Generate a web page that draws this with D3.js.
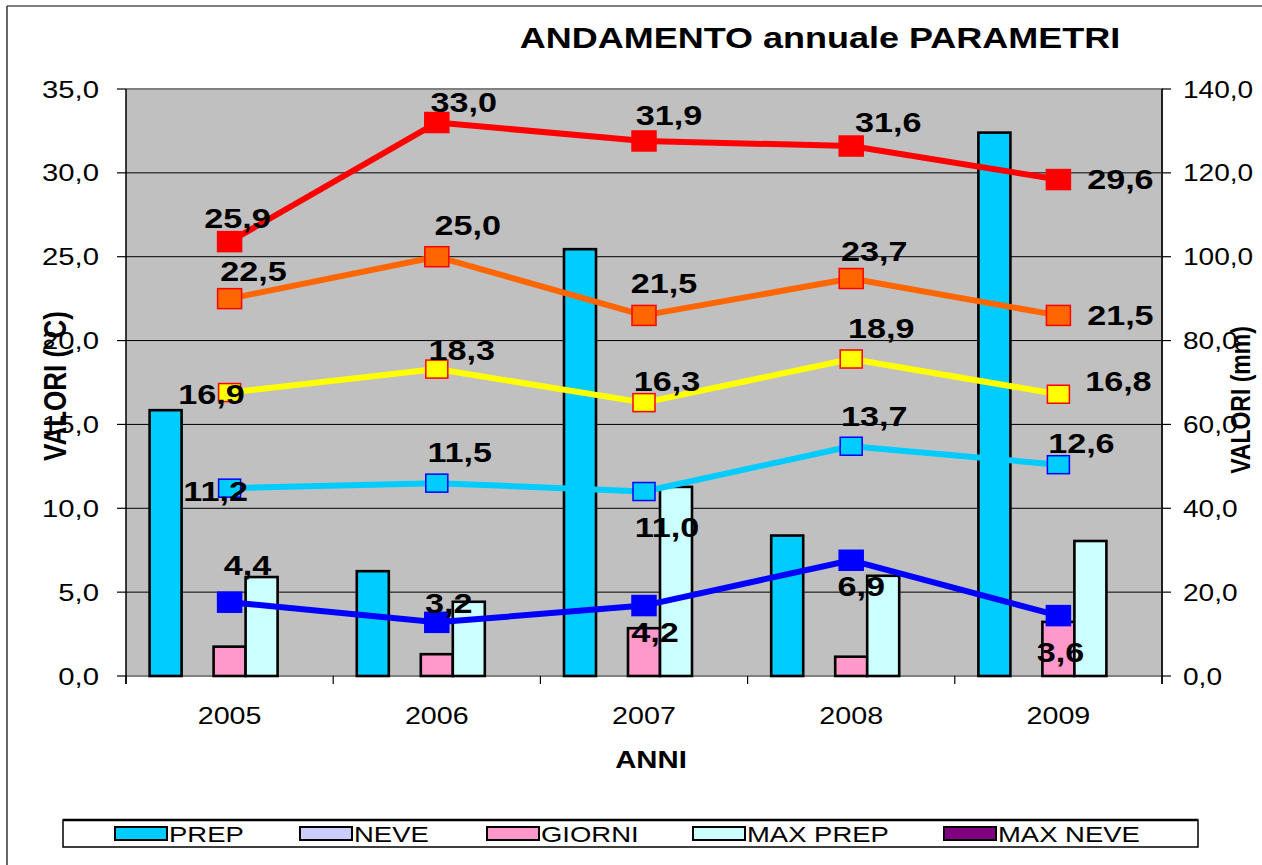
<!DOCTYPE html>
<html>
<head>
<meta charset="utf-8">
<script src="https://cdn.jsdelivr.net/npm/d3@7"></script>
<style>
  body { margin: 0; background: #fff; }
  svg text { font-family: "Liberation Sans", Arial, sans-serif; }
</style>
</head>
<body>
<div id="chart"></div>
<script>
// categories
const years = ["2005", "2006", "2007", "2008", "2009"];

// bar series (mm, right axis)
const barNames = ["PREP", "NEVE", "GIORNI", "MAX PREP", "MAX NEVE"];
const prep = [63.4, 25.0, 101.8, 33.5, 129.6];
const neve = [0, 0, 0, 0, 0];
const giorni = [7.0, 5.2, 11.4, 4.6, 12.9];
const maxPrep = [23.6, 17.7, 45.1, 23.9, 32.2];
const maxNeve = [0, 0, 0, 0, 0];

// line series (°C, left axis)
const tMaxAss = [25.9, 33.0, 31.9, 31.6, 29.6];
const tMaxMed = [22.5, 25.0, 21.5, 23.7, 21.5];
const tMed = [16.9, 18.3, 16.3, 18.9, 16.8];
const tMinMed = [11.2, 11.5, 11.0, 13.7, 12.6];
const tMinAss = [4.4, 3.2, 4.2, 6.9, 3.6];

// axis ticks
const leftTicks = [0, 5, 10, 15, 20, 25, 30, 35];
const rightTicks = [0, 20, 40, 60, 80, 100, 120, 140];

const W = 1262, H = 865;
const plot = { left: 126, right: 1162, top: 89, bottom: 676 };
const STRETCH = 1.22;
const fmt = v => d3.format(".1f")(v).replace(".", ",");

const barColor = d3.scaleOrdinal()
    .domain(barNames)
    .range(["#00CCFF", "#CCCCFF", "#FF99CC", "#CCFFFF", "#800080"]);

const lines = [
    { values: tMaxAss, color: "#FF0000", fill: "#FF0000", stroke: "#FF0000", w: 24, h: 20 },
    { values: tMaxMed, color: "#FF6600", fill: "#FF6600", stroke: "#FF0000", w: 24, h: 20 },
    { values: tMed, color: "#FFFF00", fill: "#FFFF00", stroke: "#FF0000", w: 22, h: 18 },
    { values: tMinMed, color: "#00CCFF", fill: "#00CCFF", stroke: "#0000FF", w: 22, h: 18 },
    { values: tMinAss, color: "#0000FF", fill: "#0000FF", stroke: "#0000FF", w: 24, h: 20 }
];

// data label offsets from the marker centre (dx, baseline dy), per series and year
const labelOffsets = [
    [[8, -14], [27, -11], [25, -16], [37, -14], [62, 9]],
    [[24, -18], [31, -22], [20, -22], [23, -18], [62, 10]],
    [[-18, 11], [25, -9], [23, -12], [30, -21], [60, -3]],
    [[-14, 13], [23, -21], [23, 45], [23, -20], [23, -12]],
    [[18, -27], [12, -9], [11, 36], [10, 36], [2, 46]]
];

const svg = d3.select("#chart")
    .append("svg")
    .attr("width", W)
    .attr("height", H);

// outer chart frame
svg.append("line").attr("x1", 7).attr("x2", W).attr("y1", 6).attr("y2", 6)
    .attr("stroke", "#808080").attr("stroke-width", 2);
svg.append("line").attr("x1", 7).attr("x2", 7).attr("y1", 6).attr("y2", H)
    .attr("stroke", "#333").attr("stroke-width", 1.5);

const x0 = d3.scaleBand().domain(years).range([plot.left, plot.right]);
const x1 = d3.scaleBand().domain(barNames).range([0, x0.bandwidth()])
    .paddingInner(0).paddingOuter(0.7375);
const yL = d3.scaleLinear().domain([0, 35]).range([plot.bottom, plot.top]);
const yR = d3.scaleLinear().domain([0, 140]).range([plot.bottom, plot.top]);

// plot background
svg.append("rect")
    .attr("x", plot.left).attr("y", plot.top)
    .attr("width", plot.right - plot.left).attr("height", plot.bottom - plot.top)
    .attr("fill", "#C0C0C0");

// gridlines
svg.append("g").selectAll("line")
    .data(leftTicks.slice(1, -1))
    .join("line")
    .attr("x1", plot.left).attr("x2", plot.right)
    .attr("y1", d => yL(d)).attr("y2", d => yL(d))
    .attr("stroke", "#000").attr("stroke-width", 1);

// plot border (top, right, bottom gray)
svg.append("path")
    .attr("d", `M${plot.left},${plot.top}H${plot.right}V${plot.bottom}H${plot.left}`)
    .attr("fill", "none").attr("stroke", "#808080").attr("stroke-width", 2);

// bars
const barSeries = [prep, neve, giorni, maxPrep, maxNeve];
const barData = [];
years.forEach((yr, i) => {
    barNames.forEach((name, j) => {
        barData.push({ year: yr, name, v: barSeries[j][i] });
    });
});

svg.append("g").selectAll("rect")
    .data(barData.filter(d => d.v > 0))
    .join("rect")
    .attr("x", d => x0(d.year) + x1(d.name))
    .attr("y", d => yR(d.v))
    .attr("width", x1.bandwidth())
    .attr("height", d => yR(0) - yR(d.v))
    .attr("fill", d => barColor(d.name))
    .attr("stroke", "#000")
    .attr("stroke-width", 2.6);

// lines + markers
const cx = yr => x0(yr) + x0.bandwidth() / 2;
const lineGen = d3.line().x((d, i) => cx(years[i])).y(d => yL(d));

lines.forEach(s => {
    svg.append("path")
        .attr("d", lineGen(s.values))
        .attr("fill", "none")
        .attr("stroke", s.color)
        .attr("stroke-width", 6)
        .attr("stroke-linejoin", "round");
});

lines.forEach(s => {
    svg.append("g").selectAll("rect")
        .data(s.values)
        .join("rect")
        .attr("x", (d, i) => cx(years[i]) - s.w / 2)
        .attr("y", d => yL(d) - s.h / 2)
        .attr("width", s.w)
        .attr("height", s.h)
        .attr("fill", s.fill)
        .attr("stroke", s.stroke)
        .attr("stroke-width", 1.5);
});

// data labels
lines.forEach((s, k) => {
    svg.append("g").selectAll("text")
        .data(s.values)
        .join("text")
        .attr("class", "st")
        .attr("x", (d, i) => cx(years[i]) + labelOffsets[k][i][0])
        .attr("y", (d, i) => yL(d) + labelOffsets[k][i][1])
        .attr("text-anchor", "middle")
        .attr("font-size", 28)
        .attr("font-weight", "bold")
        .attr("fill", "#000")
        .text(d => fmt(d));
});

// left axis
const gL = svg.append("g");
gL.append("line").attr("x1", plot.left).attr("x2", plot.left)
    .attr("y1", plot.top).attr("y2", plot.bottom + 8).attr("stroke", "#000").attr("stroke-width", 1.5);
gL.selectAll("line.t").data(leftTicks).join("line").attr("class", "t")
    .attr("x1", plot.left - 9).attr("x2", plot.left)
    .attr("y1", d => yL(d)).attr("y2", d => yL(d))
    .attr("stroke", "#000").attr("stroke-width", 1.2);
gL.selectAll("text").data(leftTicks).join("text")
    .attr("class", "st")
    .attr("x", 99).attr("y", d => yL(d) + 8.5)
    .attr("text-anchor", "end")
    .attr("font-size", 24)
    .text(d => fmt(d));

// right axis
const gR = svg.append("g");
gR.append("line").attr("x1", plot.right).attr("x2", plot.right)
    .attr("y1", plot.top).attr("y2", plot.bottom + 8).attr("stroke", "#000").attr("stroke-width", 1.5);
gR.selectAll("line.t").data(rightTicks).join("line").attr("class", "t")
    .attr("x1", plot.right).attr("x2", plot.right + 9)
    .attr("y1", d => yR(d)).attr("y2", d => yR(d))
    .attr("stroke", "#000").attr("stroke-width", 1.2);
gR.selectAll("text").data(rightTicks).join("text")
    .attr("class", "st")
    .attr("x", 1183).attr("y", d => yR(d) + 8.5)
    .attr("text-anchor", "start")
    .attr("font-size", 23)
    .text(d => fmt(d));

// x axis ticks + labels
const gX = svg.append("g");
const bounds = years.map(y => x0(y)).concat([plot.right]);
gX.selectAll("line").data(bounds).join("line")
    .attr("x1", d => d).attr("x2", d => d)
    .attr("y1", plot.bottom).attr("y2", plot.bottom + 8)
    .attr("stroke", "#000").attr("stroke-width", 1.2);
gX.selectAll("text").data(years).join("text")
    .attr("class", "st")
    .attr("x", d => cx(d)).attr("y", 724)
    .attr("text-anchor", "middle")
    .attr("font-size", 23.5)
    .text(d => d);

// titles
svg.append("text").attr("class", "st")
    .attr("x", 820).attr("y", 48)
    .attr("text-anchor", "middle")
    .attr("font-size", 29.5).attr("font-weight", "bold")
    .text("ANDAMENTO annuale PARAMETRI");

svg.append("text").attr("class", "st")
    .attr("x", 651).attr("y", 768)
    .attr("text-anchor", "middle")
    .attr("font-size", 24).attr("font-weight", "bold")
    .text("ANNI");

svg.append("text")
    .attr("transform", `translate(66,386) rotate(-90) scale(1,${STRETCH})`)
    .attr("text-anchor", "middle")
    .attr("font-size", 26).attr("font-weight", "bold")
    .text("VALORI (°C)");

svg.append("text")
    .attr("transform", `translate(1250,400) rotate(-90) scale(1,${STRETCH})`)
    .attr("text-anchor", "middle")
    .attr("font-size", 23).attr("font-weight", "bold")
    .text("VALORI (mm)");

// legend
svg.append("rect")
    .attr("x", 63).attr("y", 820).attr("width", 1135).attr("height", 27)
    .attr("fill", "#fff").attr("stroke", "#000").attr("stroke-width", 1.5);
svg.append("line").attr("x1", 63).attr("x2", 1198).attr("y1", 820).attr("y2", 820)
    .attr("stroke", "#000").attr("stroke-width", 2.5);

const legendX = d3.scaleOrdinal().domain(barNames).range([115, 300, 487, 693, 944]);
const legend = svg.selectAll(".legend")
    .data(barNames)
    .join("g")
    .attr("class", "legend")
    .attr("transform", d => `translate(${legendX(d)},827)`);

legend.append("rect")
    .attr("width", 52).attr("height", 13)
    .attr("fill", d => barColor(d))
    .attr("stroke", "#000").attr("stroke-width", 2);

legend.append("text")
    .attr("class", "st")
    .attr("x", 54).attr("y", 15)
    .attr("font-size", 22.5)
    .text(d => d);

// widen text horizontally like the original (stretched picture)
svg.selectAll("text.st").each(function () {
    const w = this.getComputedTextLength();
    d3.select(this)
        .attr("textLength", w * STRETCH)
        .attr("lengthAdjust", "spacingAndGlyphs");
});
</script>
</body>
</html>
